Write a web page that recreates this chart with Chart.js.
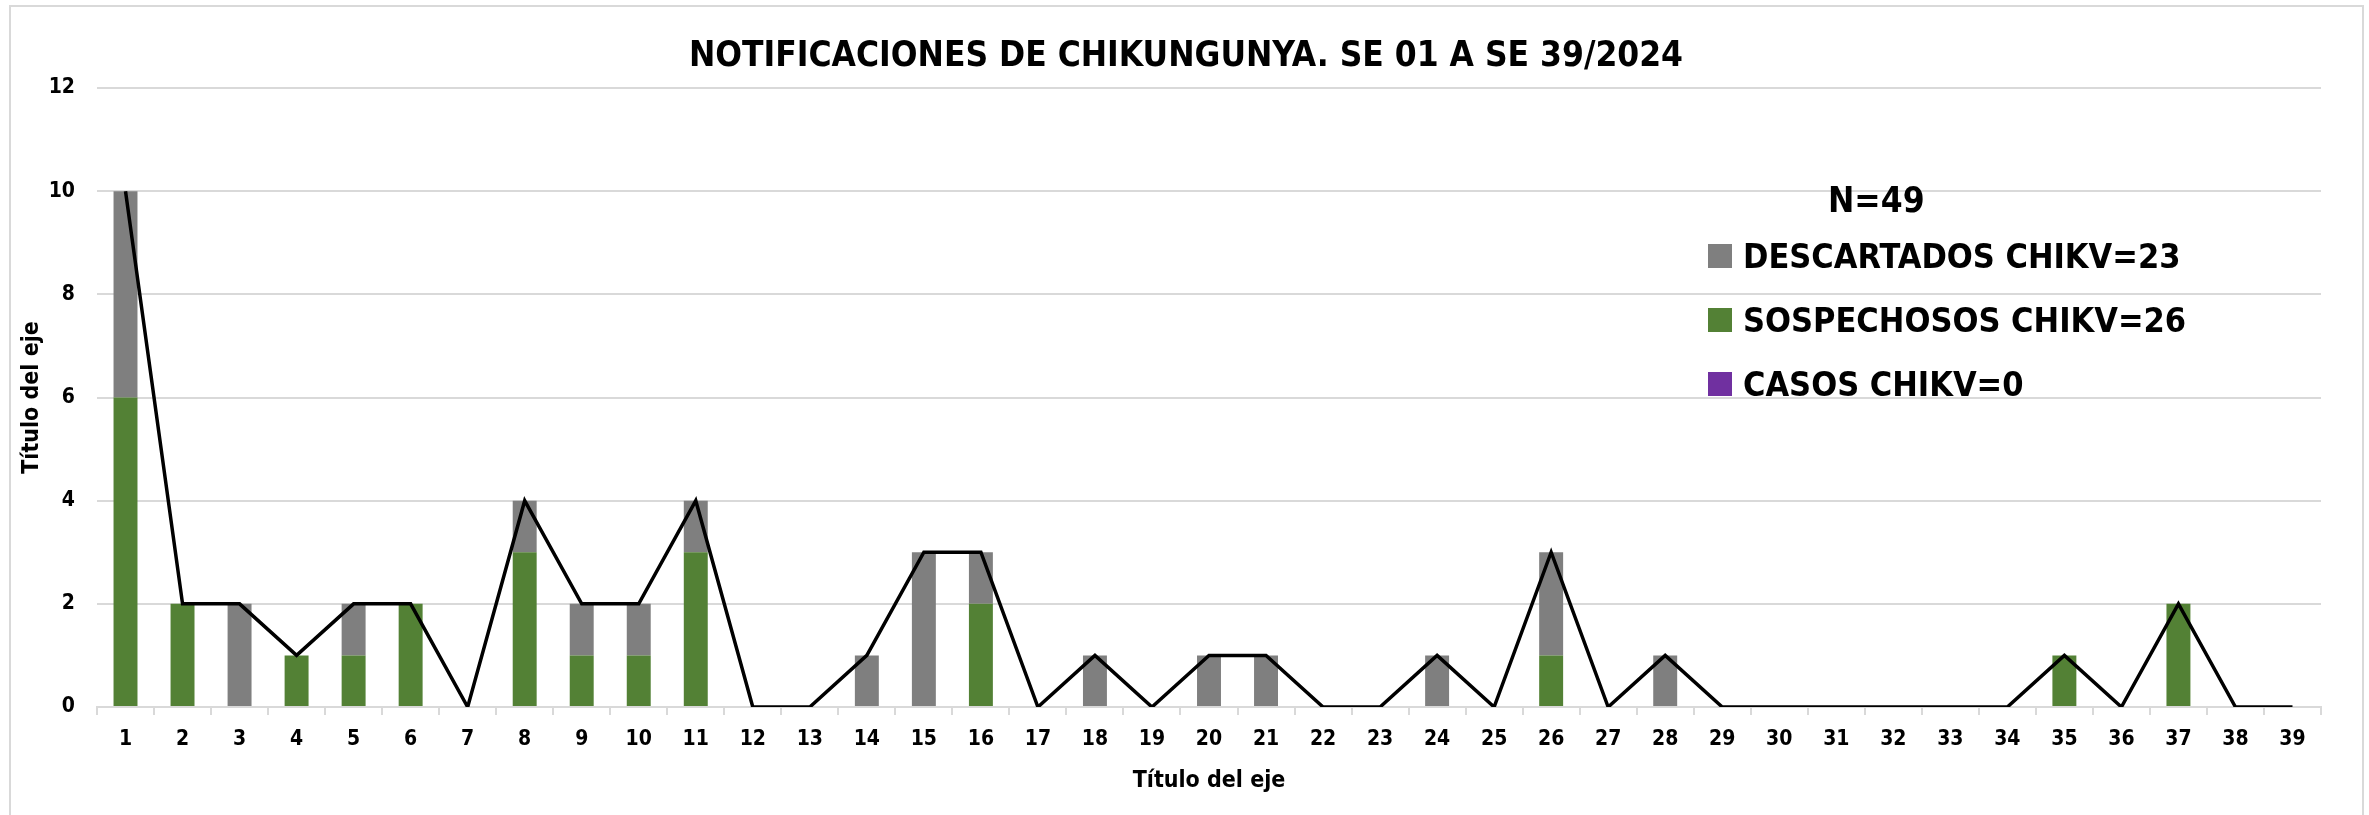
<!DOCTYPE html>
<html>
<head>
<meta charset="utf-8">
<script src="https://cdn.jsdelivr.net/npm/chart.js@4.4.1/dist/chart.umd.min.js"></script>
<style>
  body { margin: 0; background: #ffffff; }
  #marco { position: absolute; left: 9px; top: 5px; width: 2351px; height: 840px; border: 2px solid #d9d9d9; }
  #grafico { position: absolute; left: 0; top: 0; }
  #leyenda { position: absolute; left: 0; top: 0; font-family: "Liberation Sans Narrow", "DejaVu Sans Condensed", sans-serif; font-weight: bold; color: #000; }
  #leyenda .n { position: absolute; left: 1828px; top: 178px; font-size: 35px; line-height: 44px; white-space: nowrap; }
  #leyenda .item { position: absolute; left: 1708px; height: 40px; display: flex; align-items: center; white-space: nowrap; font-size: 34px; }
  #leyenda .caja { width: 24px; height: 24px; margin-right: 11px; }
</style>
</head>
<body>
<div id="marco"></div>
<canvas id="grafico" width="2369" height="815"></canvas>
<div id="leyenda"></div>
<script>
// Notificaciones de chikungunya por semana epidemiológica (SE 01 a SE 39 / 2024)

const semanas = ['1','2','3','4','5','6','7','8','9','10','11','12','13','14','15','16','17','18','19','20',
  '21','22','23','24','25','26','27','28','29','30','31','32','33','34','35','36','37','38','39'];

const sospechosos = [6,2,0,1,1,2,0,3,1,1,3,0,0,0,0,2,0,0,0,0,0,0,0,0,0,1,0,0,0,0,0,0,0,0,1,0,2,0,0];
const descartados = [4,0,2,0,1,0,0,1,1,1,1,0,0,1,3,1,0,1,0,1,1,0,0,1,0,2,0,1,0,0,0,0,0,0,0,0,0,0,0];
const casos       = [0,0,0,0,0,0,0,0,0,0,0,0,0,0,0,0,0,0,0,0,0,0,0,0,0,0,0,0,0,0,0,0,0,0,0,0,0,0,0];
const totales     = [10,2,2,1,2,2,0,4,2,2,4,0,0,1,3,3,0,1,0,1,1,0,0,1,0,3,0,1,0,0,0,0,0,0,1,0,2,0,0];

const ticksY = [0, 2, 4, 6, 8, 10, 12];

const titulo = 'NOTIFICACIONES DE CHIKUNGUNYA. SE 01 A SE 39/2024';
const tituloEje = 'Título del eje';
const textoN = 'N=49';
const etiquetas = {
  descartados: 'DESCARTADOS CHIKV=23',
  sospechosos: 'SOSPECHOSOS CHIKV=26',
  casos: 'CASOS CHIKV=0'
};

const fuente = '"Liberation Sans Narrow", "DejaVu Sans Condensed", sans-serif';
const gris = '#7f7f7f';
const verde = '#538135';
const morado = '#7030a0';
const lineaGrid = '#d9d9d9';

Chart.defaults.font.family = fuente;
Chart.defaults.color = '#000000';

// leyenda en HTML, en el orden del original
function pintarLeyenda(chart) {
  const cont = document.getElementById('leyenda');
  const orden = ['descartados', 'sospechosos', 'casos'];
  let html = `<div class="n">${textoN}</div>`;
  orden.forEach((clave, i) => {
    const ds = chart.data.datasets.find(d => d.clave === clave);
    if (!ds) return;
    html += `<div class="item" style="top:${236 + i * 64}px">
      <div class="caja" style="background:${ds.backgroundColor}"></div>${ds.label}</div>`;
  });
  cont.innerHTML = html;
}

const leyendaHtml = {
  id: 'leyendaHtml',
  afterUpdate(chart) { pintarLeyenda(chart); }
};

// título centrado sobre el marco completo (no sobre el área del gráfico)
const tituloCentrado = {
  id: 'tituloCentrado',
  afterDraw(chart) {
    const ctx = chart.ctx;
    ctx.save();
    ctx.font = `bold 35px ${fuente}`;
    ctx.fillStyle = '#000000';
    ctx.textAlign = 'center';
    ctx.textBaseline = 'middle';
    ctx.fillText(titulo, 1186, 57);
    ctx.restore();
  }
};

new Chart(document.getElementById('grafico'), {
  data: {
    labels: semanas,
    datasets: [
      {
        type: 'line',
        label: 'Total',
        data: totales,
        borderColor: '#000000',
        borderWidth: 3.5,
        pointRadius: 0,
        tension: 0,
        stack: 'linea',
        order: 0
      },
      {
        type: 'bar',
        clave: 'sospechosos',
        label: etiquetas.sospechosos,
        data: sospechosos,
        backgroundColor: verde,
        stack: 'barras',
        order: 1
      },
      {
        type: 'bar',
        clave: 'descartados',
        label: etiquetas.descartados,
        data: descartados,
        backgroundColor: gris,
        stack: 'barras',
        order: 1
      },
      {
        type: 'bar',
        clave: 'casos',
        label: etiquetas.casos,
        data: casos,
        backgroundColor: morado,
        stack: 'barras',
        order: 1
      }
    ]
  },
  options: {
    responsive: false,
    animation: false,
    layout: { padding: { left: 0, right: 48, top: 88, bottom: 10 } },
    datasets: {
      bar: { barPercentage: 0.42, categoryPercentage: 1 }
    },
    plugins: {
      legend: { display: false },
      tooltip: { enabled: false },
      title: { display: false }
    },
    scales: {
      x: {
        stacked: true,
        grid: { offset: true, drawOnChartArea: false, drawTicks: true, tickLength: 8, color: lineaGrid, lineWidth: 2 },
        border: { display: true, color: lineaGrid, width: 2 },
        ticks: { font: { size: 21, weight: 'bold' }, padding: 12, maxRotation: 0, autoSkip: false },
        title: { display: true, text: tituloEje, font: { size: 23, weight: 'bold' }, padding: { top: 14, bottom: 10 } },
        afterFit(scale) { scale.height = 98; }
      },
      y: {
        stacked: true,
        min: 0,
        max: 12,
        afterBuildTicks(scale) { scale.ticks = ticksY.map(v => ({ value: v })); },
        grid: { drawTicks: false, color: lineaGrid, lineWidth: 2 },
        border: { display: false },
        ticks: { font: { size: 21, weight: 'bold' }, padding: 22 },
        title: { display: true, text: tituloEje, font: { size: 23, weight: 'bold' }, padding: { top: 18, bottom: 0 } },
        afterFit(scale) { scale.width = 97; }
      }
    }
  },
  plugins: [leyendaHtml, tituloCentrado]
});
</script>
</body>
</html>
